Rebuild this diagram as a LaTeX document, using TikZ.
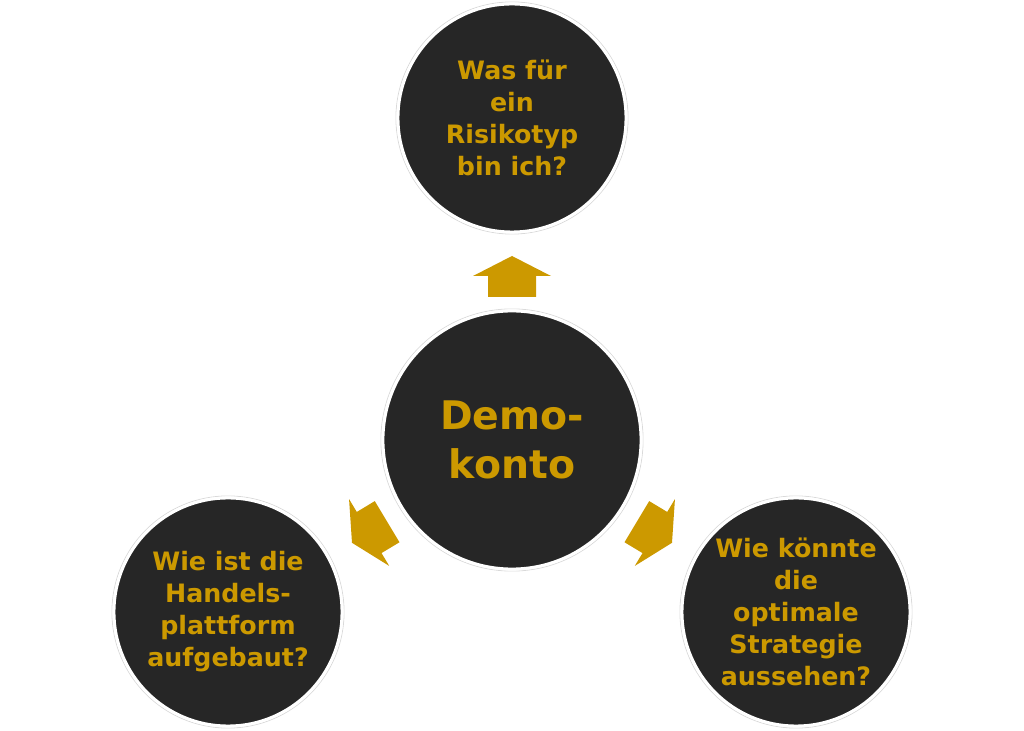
\documentclass[tikz,border=0pt]{standalone}
\usepackage{fontspec}
\setmainfont{DejaVu Sans}
\definecolor{gold}{HTML}{CC9900}
\definecolor{disc}{HTML}{262626}
\tikzset{ball/.style={circle,fill=disc,draw=white,line width=0.03cm,align=center,
  text=gold,font=\bfseries\fontsize{7.2}{9.1}\selectfont,minimum size=2.28cm,inner sep=0pt}}
\tikzset{ring/.style={circle,draw=black!15,line width=0.008cm,inner sep=0pt}}
\tikzset{arrowbox/.style={fill=gold}}
\begin{document}
\begin{tikzpicture}[x=0.01cm,y=-0.01cm]
  \useasboundingbox (0,0) rectangle (1024,731);
  % outer grey rings
  \foreach \n/\x/\y/\s in {r0/512/440/2.62,r1/512/118/2.32,r2/228/612/2.32,r3/796/612/2.32}
    \node[ring,minimum size=\s cm] (\n) at (\x,\y) {};
  \node[ball,minimum size=2.58cm,font=\bfseries\fontsize{11.2}{13.7}\selectfont] (demo) at (512,440) {Demo-\\konto};
  \node[ball] (typ) at (512,118) {Was für\\ein\\Risikotyp\\bin ich?};
  \node[ball] (platt) at (228,612) {Wie ist die\\Handels-\\plattform\\aufgebaut?};
  \node[ball] (strat) at (796,612) {Wie könnte\\die\\optimale\\Strategie\\aussehen?};
  % block arrows
  \foreach \r/\x/\y in {90/512/277,211/370/532,-31/654/532}
    \fill[arrowbox,shift={(\x,\y)},rotate=\r]
      (-20,-24)--(1,-24)--(1,-39)--(21,0)--(1,39)--(1,24)--(-20,24)--cycle;
\end{tikzpicture}
\end{document}
